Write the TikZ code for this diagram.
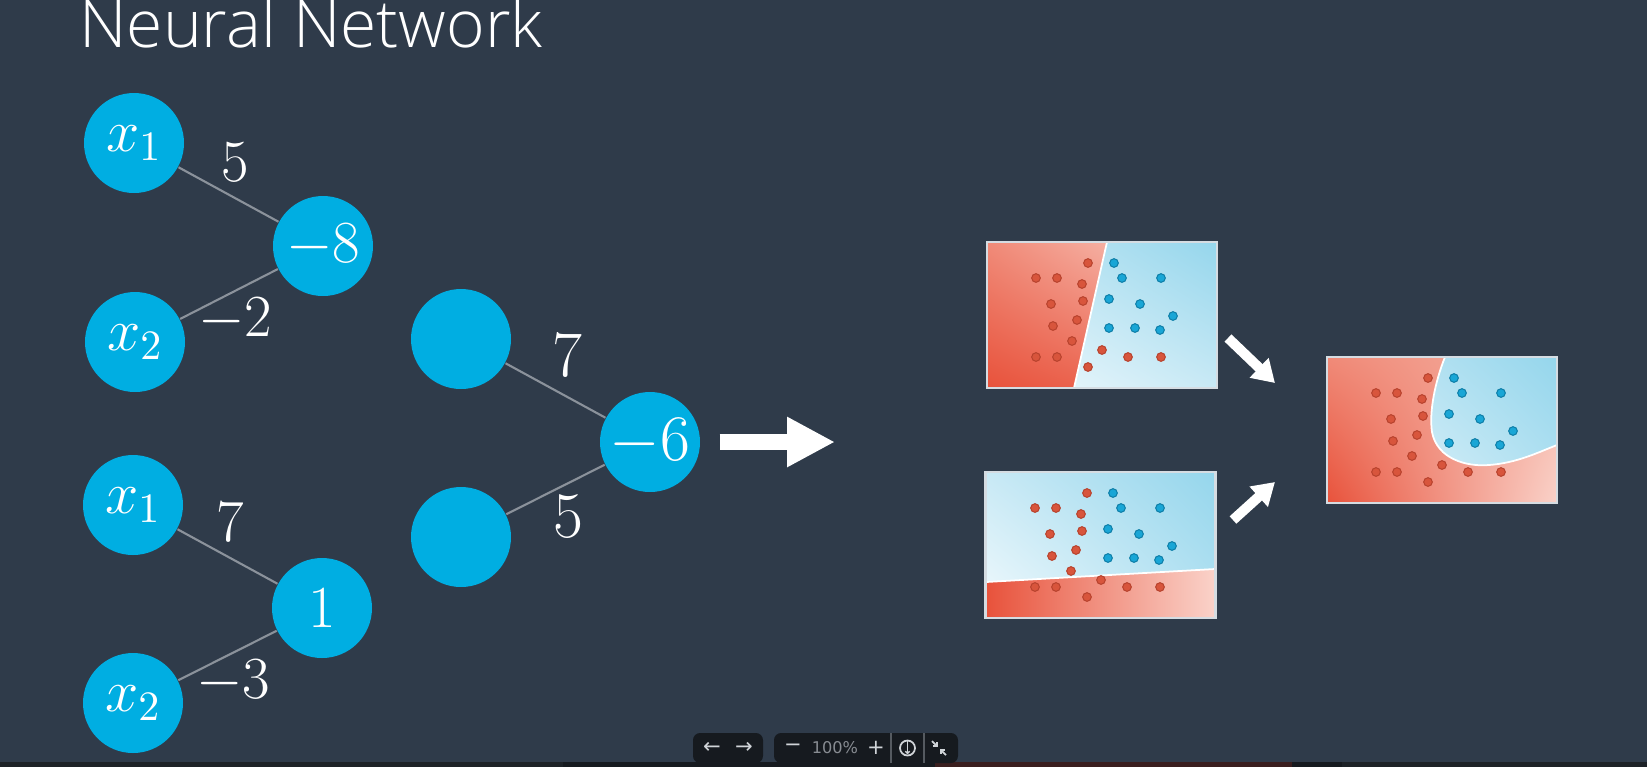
\RequirePackage{fix-cm}
\documentclass[tikz,border=0pt]{standalone}
\usepackage{fontspec}
\usepackage{amsmath}
\usepackage{xcolor}
\usepackage{tikz}
\usetikzlibrary{arrows.meta,calc,shadings}
\newfontfamily\titlefont{Open Sans Light}
\newfontfamily\uifont{DejaVu Sans}
\definecolor{slateBg}{HTML}{2F3B4A}
\definecolor{neuronblue}{HTML}{00AEE2}
\definecolor{wiregrey}{HTML}{8B929B}
\definecolor{framegrey}{HTML}{D5DCE2}
\definecolor{dotred}{HTML}{D8553C}
\definecolor{dotredline}{HTML}{B8432E}
\definecolor{dotblue}{HTML}{19A6D6}
\definecolor{dotblueline}{HTML}{0F7FA8}
\definecolor{barblack}{HTML}{161A1F}
\definecolor{stripdark}{HTML}{1D2227}
\definecolor{stripred}{HTML}{3A1E1E}
\definecolor{uilight}{HTML}{D0D4D8}
\definecolor{uigrey}{HTML}{888C92}
\definecolor{uisep}{HTML}{555A60}
% region shades
\definecolor{redA}{HTML}{E8523B}
\definecolor{redB}{HTML}{EE7866}
\definecolor{redC}{HTML}{F08A78}
\definecolor{redD}{HTML}{F5B3A5}
\definecolor{redE}{HTML}{FAD2C9}
\definecolor{blueA}{HTML}{95D6EC}
\definecolor{blueB}{HTML}{B5E2F2}
\definecolor{blueC}{HTML}{C8E9F5}
\definecolor{blueD}{HTML}{F2FAFD}

% the same data points in every little plot
\newcommand{\plotdots}{%
  \foreach \px/\py in {1.01/-0.21,0.49/-0.36,0.70/-0.36,0.95/-0.42,0.64/-0.62,0.96/-0.59,0.66/-0.84,0.90/-0.78,0.85/-0.99,0.49/-1.15,0.70/-1.15,1.15/-1.08,1.01/-1.25,1.41/-1.15,1.74/-1.15}
    \fill[dotred, draw=dotredline, line width=0.3pt] (\px,\py) circle (0.043);
  \foreach \px/\py in {1.27/-0.21,1.35/-0.36,1.74/-0.36,1.22/-0.57,1.53/-0.62,1.86/-0.74,1.22/-0.86,1.48/-0.86,1.73/-0.88}
    \fill[dotblue, draw=dotblueline, line width=0.3pt] (\px,\py) circle (0.043);
}

\begin{document}
\begin{tikzpicture}[
  neuron/.style={circle, fill=neuronblue, minimum size=1.0cm, inner sep=0pt, text=white, font=\fontsize{17}{20}\selectfont},
  bigneuron/.style={neuron, font=\fontsize{18.5}{22}\selectfont},
  weight/.style={text=white, inner sep=0pt, font=\fontsize{17}{20}\selectfont},
  bigweight/.style={weight, font=\fontsize{18.5}{22}\selectfont},
  wire/.style={wiregrey, line width=0.6pt},
  plotframe/.style={draw=framegrey, line width=0.6pt, minimum width=2.30cm, minimum height=1.46cm, inner sep=0pt},
  split/.style={white, line width=0.5pt},
  bigarrow/.style={white, line width=0.16cm, -{Triangle[length=0.48cm, width=0.47cm]}},
  smallarrow/.style={white, line width=0.10cm, -{Triangle[length=0.22cm, width=0.26cm]}},
  uibox/.style={fill=barblack, rounded corners=2pt, inner sep=0pt, minimum height=0.30cm},
  uitext/.style={text=uilight, font=\uifont\fontsize{6}{7}\selectfont, inner sep=0pt},
]
\fill[slateBg] (0,0) rectangle (16.47,-7.67);
\useasboundingbox (0,0) rectangle (16.47,-7.67);

\node[anchor=base west, text=white, font=\titlefont\fontsize{18.75}{21}\selectfont] (title) at (0.67,-0.47) {Neural Network};

% first neuron
\node[neuron] (x1a) at (1.34,-1.43) {$x_1$};
\node[neuron] (x2a) at (1.35,-3.42) {$x_2$};
\node[neuron] (h1) at (3.23,-2.46) {$-8$};
\draw[wire] (x1a) -- (h1);
\draw[wire] (x2a) -- (h1);
\node[weight] (w11) at (2.35,-1.62) {$5$};
\node[weight] (w12) at (2.35,-3.20) {$-2$};

% second neuron
\node[neuron] (x1b) at (1.33,-5.05) {$x_1$};
\node[neuron] (x2b) at (1.33,-7.03) {$x_2$};
\node[neuron] (h2) at (3.22,-6.08) {$1$};
\draw[wire] (x1b) -- (h2);
\draw[wire] (x2b) -- (h2);
\node[weight] (w21) at (2.30,-5.22) {$7$};
\node[weight] (w22) at (2.33,-6.82) {$-3$};

% combining neuron
\node[bigneuron] (in1) at (4.61,-3.39) {};
\node[bigneuron] (in2) at (4.61,-5.37) {};
\node[bigneuron] (out) at (6.50,-4.42) {$-6$};
\draw[wire] (in1) -- (out);
\draw[wire] (in2) -- (out);
\node[bigweight] (w31) at (5.67,-3.56) {$7$};
\node[bigweight] (w32) at (5.68,-5.17) {$5$};

\coordinate (bigtip) at (8.35,-4.42);
\draw[bigarrow] ([xshift=1.9mm]out.east) -- (bigtip);

% plot 1: slanted line
\begin{scope}[shift={(9.87,-2.42)}]
  \begin{scope}
    \clip (0,0) -- (1.20,0) -- (0.87,-1.46) -- (0,-1.46) -- cycle;
    \shade[upper left=redC, upper right=redE, lower left=redA, lower right=redB] (0,0) rectangle (2.30,-1.46);
  \end{scope}
  \begin{scope}
    \clip (1.20,0) -- (2.30,0) -- (2.30,-1.46) -- (0.87,-1.46) -- cycle;
    \shade[upper left=blueC, upper right=blueA, lower left=blueD, lower right=blueC] (0,0) rectangle (2.30,-1.46);
  \end{scope}
  \draw[split] (1.20,0) -- (0.87,-1.46);
  \plotdots
\end{scope}
\node[plotframe] (p1) at (11.02,-3.15) {};

% plot 2: nearly flat line
\begin{scope}[shift={(9.86,-4.72)}]
  \begin{scope}
    \clip (0,-1.10) -- (2.29,-0.97) -- (2.29,-1.46) -- (0,-1.46) -- cycle;
    \shade[upper left=redA, upper right=redE, lower left=redA, lower right=redE] (0,0) rectangle (2.29,-1.46);
  \end{scope}
  \begin{scope}
    \clip (0,0) -- (2.29,0) -- (2.29,-0.97) -- (0,-1.10) -- cycle;
    \shade[upper left=blueC, upper right=blueA, lower left=blueD, lower right=blueB] (0,0) rectangle (2.29,-1.46);
  \end{scope}
  \draw[split] (0,-1.10) -- (2.29,-0.97);
  \plotdots
\end{scope}
\node[plotframe] (p2) at (11.005,-5.45) {};

% plot 3: curved boundary
\begin{scope}[shift={(13.27,-3.57)}]
  \shade[upper left=redC, upper right=redD, lower left=redA, lower right=redE] (0,0) rectangle (2.30,-1.46);
  \begin{scope}
    \clip (1.18,0) .. controls (1.08,-0.25) and (1.02,-0.55) .. (1.05,-0.75)
      .. controls (1.10,-1.02) and (1.40,-1.10) .. (1.62,-1.08)
      .. controls (1.90,-1.06) and (2.12,-0.95) .. (2.30,-0.88) -- (2.30,0) -- cycle;
    \shade[upper left=blueC, upper right=blueA, lower left=blueD, lower right=blueB] (0,0) rectangle (2.30,-1.46);
  \end{scope}
  \draw[split] (1.18,0) .. controls (1.08,-0.25) and (1.02,-0.55) .. (1.05,-0.75)
      .. controls (1.10,-1.02) and (1.40,-1.10) .. (1.62,-1.08)
      .. controls (1.90,-1.06) and (2.12,-0.95) .. (2.30,-0.88);
  \plotdots
\end{scope}
\node[plotframe] (p3) at (14.42,-4.30) {};

\coordinate (a1s) at (12.28,-3.38);
\coordinate (a1e) at (12.75,-3.83);
\coordinate (a2s) at (12.33,-5.20);
\coordinate (a2e) at (12.75,-4.82);
\draw[smallarrow] (a1s) -- (a1e);
\draw[smallarrow] (a2s) -- (a2e);

% player bar
\fill[stripdark] (0,-7.62) rectangle (16.47,-7.67);
\fill[barblack] (5.63,-7.62) rectangle (13.42,-7.67);
\fill[stripred] (9.35,-7.62) rectangle (12.92,-7.67);
\node[uibox, minimum width=0.70cm] (navbox) at (7.28,-7.48) {};
\node[uibox, minimum width=1.84cm] (zoombox) at (8.66,-7.48) {};
\node[uitext] (prevbtn) at (7.12,-7.48) {←};
\node[uitext] (nextbtn) at (7.44,-7.48) {→};
\node[uitext] (minusbtn) at (7.93,-7.48) {−};
\node[uitext, text=uigrey, font=\uifont\fontsize{4.6}{5}\selectfont] (zoomlvl) at (8.35,-7.48) {100\%};
\node[uitext] (plusbtn) at (8.76,-7.48) {+};
\draw[uisep, line width=0.3pt] (8.91,-7.33) -- (8.91,-7.63);
\draw[uisep, line width=0.3pt] (9.24,-7.33) -- (9.24,-7.63);
\node[circle, draw=uilight, line width=0.5pt, minimum size=0.15cm, inner sep=0pt] (savebtn) at (9.075,-7.48) {};
\draw[uilight, line width=0.4pt, -{Straight Barb[length=0.6pt, width=1.2pt]}] ([yshift=-0.3pt]savebtn.north) -- ([yshift=0.6pt]savebtn.south);
\coordinate (shrink) at (9.39,-7.48);
\draw[uilight, line width=0.5pt, -{Straight Barb[length=0.8pt, width=1.6pt]}] ($(shrink)+(-0.07,0.07)$) -- ($(shrink)+(-0.01,0.01)$);
\draw[uilight, line width=0.5pt, -{Straight Barb[length=0.8pt, width=1.6pt]}] ($(shrink)+(0.07,-0.07)$) -- ($(shrink)+(0.01,-0.01)$);
\end{tikzpicture}
\end{document}
